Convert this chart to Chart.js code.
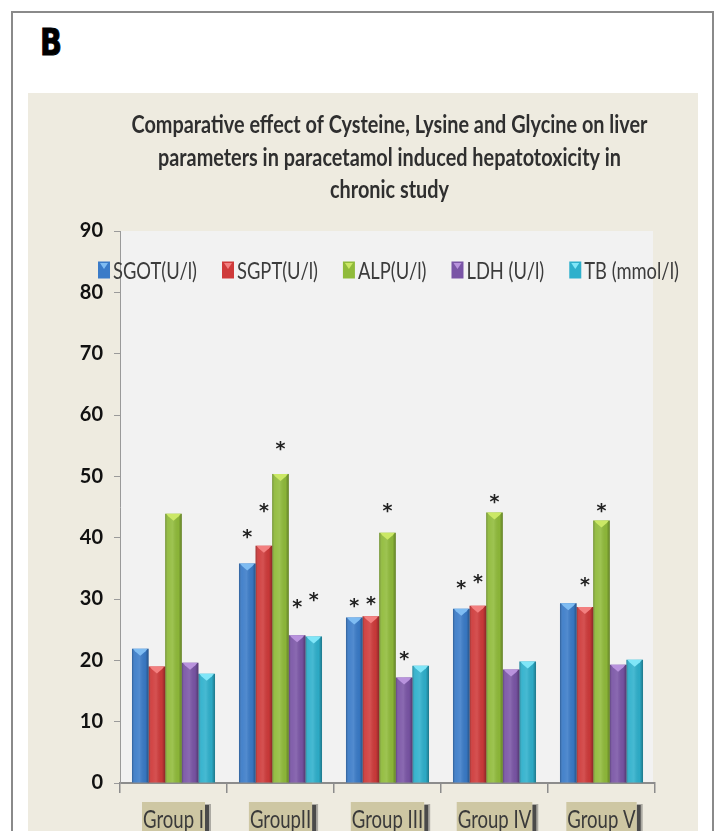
<!DOCTYPE html>
<html>
<head>
  <meta charset="UTF-8">
  <title>Liver parameters - chronic study</title>
  <script src="https://cdn.jsdelivr.net/npm/chart.js"></script>
  <style>
    body {
      margin: 0;
      background: #fff;
      font-family: Lato, sans-serif;
    }
    #frame {
      position: absolute;
      left: 11px;
      top: 11px;
      width: 699px;
      height: 900px;
      border: 2px solid #8a8a8a;
    }
    #tag {
      position: absolute;
      left: 40px;
      top: 24px;
      font: bold 37px "DejaVu Sans";
      line-height: 1;
      transform: scaleX(0.78);
      transform-origin: left top;
      -webkit-text-stroke: 1px #000;
    }
    #panel {
      position: absolute;
      left: 28px;
      top: 93px;
      width: 670px;
      height: 738px;
      background: #eeebe0;
    }
  </style>
</head>
<body>
  <div id="frame"></div>
  <div id="tag">B</div>
  <div id="panel"><canvas id="liverChart"></canvas></div>

  <script>
    const titleLines = [
      'Comparative effect of Cysteine, Lysine and Glycine on liver',
      'parameters in paracetamol induced hepatotoxicity in',
      'chronic study'
    ];
    const groups = ['Group I', 'GroupII', 'Group III', 'Group IV', 'Group V'];
    const seriesNames = ['SGOT(U/l)', 'SGPT(U/l)', 'ALP(U/l)', 'LDH (U/l)', 'TB (mmol/l)'];

    const sgot = [21.9, 35.8, 27.0, 28.4, 29.3];
    const sgpt = [19.0, 38.7, 27.2, 28.9, 28.7];
    const alp  = [43.9, 50.4, 40.8, 44.1, 42.8];
    const ldh  = [19.6, 24.1, 17.2, 18.5, 19.3];
    const tb   = [17.8, 23.9, 19.1, 19.8, 20.1];

    // level of the significance asterisk above each bar (null = none)
    const sgotStar = [null, 40.6, 29.3, 32.3, null];
    const sgptStar = [null, 44.9, 29.7, 33.3, 32.7];
    const alpStar  = [null, 54.9, 44.8, 46.3, 44.8];
    const ldhStar  = [null, 29.2, 20.7, null, null];
    const tbStar   = [null, 30.3, null, null, null];

    const yMin = 0, yMax = 90, yStep = 10;

    const values = [sgot, sgpt, alp, ldh, tb];
    const stars = [sgotStar, sgptStar, alpStar, ldhStar, tbStar];
    const seriesColors = ['#3a7bc8', '#cf3a3a', '#90bb3a', '#7a55a6', '#2eb0cc'];
    const bevelColors = ['#7fbcf2', '#f38080', '#cbe866', '#b993dd', '#80e6f8'];

    // draw text squeezed horizontally (the original uses a narrow face)
    function squeezed(ctx, text, x, y, font, sx, align) {
      ctx.save();
      ctx.font = font;
      const w = ctx.measureText(text).width * sx;
      let left = x;
      if (align === 'center') left = x - w / 2;
      if (align === 'right') left = x - w;
      ctx.translate(left, y);
      ctx.scale(sx, 1);
      ctx.textAlign = 'left';
      ctx.textBaseline = 'alphabetic';
      ctx.fillText(text, 0, 0);
      ctx.restore();
      return w;
    }

    function fitScale(ctx, font, text, width) {
      ctx.save();
      ctx.font = font;
      const s = width / ctx.measureText(text).width;
      ctx.restore();
      return s;
    }

    const plotBack = {
      id: 'plotBack',
      beforeDraw(chart) {
        const { ctx, chartArea: a } = chart;
        ctx.save();
        ctx.fillStyle = '#f2f2f2';
        ctx.fillRect(a.left, a.top, a.right - a.left - 2, a.bottom - a.top);
        ctx.restore();
      }
    };

    const barShade = {
      id: 'barShade',
      afterDatasetsDraw(chart) {
        const ctx = chart.ctx;
        chart.data.datasets.forEach((ds, d) => {
          chart.getDatasetMeta(d).data.forEach(bar => {
            const w = bar.width;
            const l = bar.x - w / 2;
            const g = ctx.createLinearGradient(l, 0, l + w, 0);
            g.addColorStop(0, 'rgba(0,0,0,0.25)');
            g.addColorStop(0.18, 'rgba(255,255,255,0.06)');
            g.addColorStop(0.45, 'rgba(255,255,255,0.12)');
            g.addColorStop(0.8, 'rgba(0,0,0,0.04)');
            g.addColorStop(1, 'rgba(0,0,0,0.32)');
            ctx.save();
            ctx.fillStyle = g;
            ctx.fillRect(l, bar.y, w, bar.base - bar.y);
            ctx.fillStyle = bevelColors[d];
            ctx.beginPath();
            ctx.moveTo(l + 1, bar.y);
            ctx.lineTo(l + w - 1, bar.y);
            ctx.lineTo(l + w - 3, bar.y + 2.5);
            ctx.lineTo(bar.x, bar.y + 7);
            ctx.lineTo(l + 3, bar.y + 2.5);
            ctx.closePath();
            ctx.fill();
            ctx.restore();
          });
        });
      }
    };

    const overlay = {
      id: 'overlay',
      afterDraw(chart) {
        const { ctx, chartArea: a } = chart;
        const yScale = chart.scales.y;
        const xScale = chart.scales.x;

        // title
        const tFont = 'bold 25px Lato';
        const tsx = fitScale(ctx, tFont, titleLines[0], 516);
        const cx = (a.left + a.right) / 2 + 2;
        ctx.fillStyle = '#2f2f2f';
        [40, 73, 105].forEach((y, i) => squeezed(ctx, titleLines[i], cx, y, tFont, tsx, 'center'));

        // legend
        const lFont = '24px Lato';
        const lsx = fitScale(ctx, lFont, seriesNames[0], 84);
        let x = 70;
        const cy = 177;
        seriesNames.forEach((name, i) => {
          ctx.save();
          ctx.fillStyle = seriesColors[i];
          ctx.fillRect(x, cy - 8.5, 12, 17);
          ctx.fillStyle = bevelColors[i];
          ctx.beginPath();
          ctx.moveTo(x + 2, cy - 7);
          ctx.lineTo(x + 10, cy - 7);
          ctx.lineTo(x + 6, cy - 1);
          ctx.closePath();
          ctx.fill();
          ctx.restore();
          ctx.fillStyle = '#3c3c3c';
          const w = squeezed(ctx, name, x + 15, cy + 9, lFont, lsx, 'left');
          x += 15 + w + 25;
        });

        // asterisks
        ctx.save();
        ctx.fillStyle = '#222';
        ctx.font = 'bold 19px "DejaVu Sans"';
        ctx.textAlign = 'center';
        ctx.textBaseline = 'alphabetic';
        const m = ctx.measureText('*');
        const mid = (m.actualBoundingBoxAscent - m.actualBoundingBoxDescent) / 2;
        chart.data.datasets.forEach((ds, d) => {
          const meta = chart.getDatasetMeta(d);
          stars[d].forEach((v, i) => {
            if (v === null) return;
            ctx.fillText('*', meta.data[i].x, yScale.getPixelForValue(v) + mid);
          });
        });
        ctx.restore();

        // category labels in boxes
        const xFont = '25px Lato';
        const xsx = fitScale(ctx, xFont, groups[0], 61);
        groups.forEach((label, i) => {
          ctx.save();
          ctx.font = xFont;
          const w = ctx.measureText(label).width * xsx;
          const px = xScale.getPixelForValue(i);
          const l = px - w / 2;
          const top = a.bottom + 19;
          ctx.fillStyle = 'rgba(50,50,50,0.35)';
          ctx.fillRect(l + w + 1, top + 2, 6, 40);
          ctx.fillStyle = '#4a4a4a';
          ctx.fillRect(l + w + 1, top + 3, 4, 40);
          ctx.fillStyle = '#cec7a3';
          ctx.fillRect(l - 1, top, w + 2, 40);
          ctx.restore();
          ctx.fillStyle = '#3a3a3a';
          squeezed(ctx, label, px, a.bottom + 45, xFont, xsx, 'center');
        });
      }
    };

    new Chart(document.getElementById('liverChart'), {
      type: 'bar',
      data: {
        labels: groups,
        datasets: seriesNames.map((name, i) => ({
          label: name,
          data: values[i],
          backgroundColor: seriesColors[i],
          borderWidth: 0,
          categoryPercentage: 0.776,
          barPercentage: 1
        }))
      },
      options: {
        responsive: true,
        maintainAspectRatio: false,
        animation: false,
        layout: {
          padding: { top: 138, right: 43, bottom: 0, left: 0 }
        },
        plugins: {
          legend: { display: false },
          title: { display: false },
          tooltip: { enabled: false }
        },
        scales: {
          x: {
            grid: {
              offset: true,
              drawOnChartArea: false,
              tickLength: 10,
              color: '#8c8c8c',
              lineWidth: 1.5
            },
            border: { color: '#8c8c8c', width: 2 },
            ticks: { display: false },
            afterFit(scale) { scale.height = 48; }
          },
          y: {
            min: yMin,
            max: yMax,
            ticks: {
              stepSize: yStep,
              color: '#111',
              padding: 11,
              font: { family: 'Lato', weight: 'bold', size: 20 }
            },
            grid: {
              drawOnChartArea: false,
              tickLength: 6,
              color: '#9a9a9a'
            },
            border: { color: '#9a9a9a' },
            afterFit(scale) { scale.width = 92; }
          }
        }
      },
      plugins: [plotBack, barShade, overlay]
    });
  </script>
</body>
</html>
